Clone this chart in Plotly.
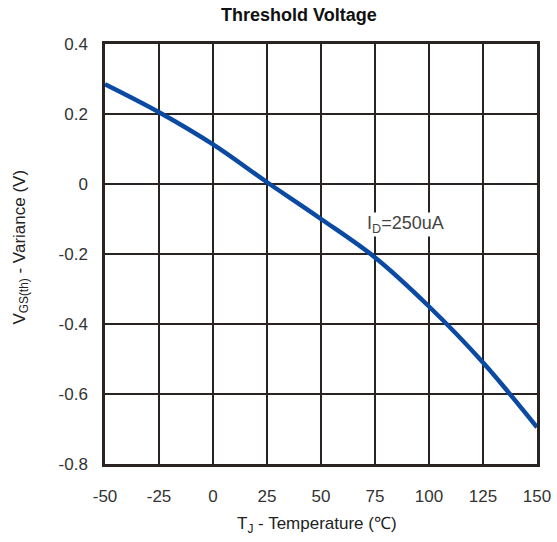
import plotly.graph_objects as go

temperature = [-50, -25, 0, 25, 50, 75, 100, 125, 150]
variance = [0.285, 0.205, 0.113, 0.005, -0.10, -0.21, -0.35, -0.51, -0.695]
x_ticks = [-50, -25, 0, 25, 50, 75, 100, 125, 150]
y_ticks = [0.4, 0.2, 0, -0.2, -0.4, -0.6, -0.8]
y_tick_labels = ["0.4", "0.2", "0", "-0.2", "-0.4", "-0.6", "-0.8"]

grid_color = "#2b2222"
font_family = "Liberation Sans, Arial, sans-serif"

fig = go.Figure()
fig.add_trace(go.Scatter(
    x=temperature, y=variance, mode="lines",
    line=dict(color="#0b4aa2", width=4.5, shape="spline", smoothing=1.0),
    showlegend=False, hoverinfo="skip",
))

fig.add_annotation(
    x=89, y=-0.117, text="I<sub>D</sub>=250uA", showarrow=False,
    font=dict(family=font_family, size=18, color="#444444"),
    bgcolor="white", borderpad=0,
)
# axis titles
fig.add_annotation(
    xref="paper", yref="paper", x=0.49, y=-0.145,
    text="T<sub>J</sub> - Temperature (℃)", showarrow=False,
    xanchor="center", yanchor="middle",
    font=dict(family=font_family, size=17, color="#222222"),
)
fig.add_annotation(
    xref="paper", yref="paper", x=-0.195, y=0.517,
    text="V<sub>GS(th)</sub> - Variance (V)", showarrow=False, textangle=-90,
    xanchor="center", yanchor="middle",
    font=dict(family=font_family, size=17, color="#222222"),
)
fig.add_annotation(
    xref="paper", yref="paper", x=0.45, y=1.069,
    text="<b>Threshold Voltage</b>", showarrow=False,
    xanchor="center", yanchor="middle",
    font=dict(family=font_family, size=18, color="#111111"),
)

fig.update_layout(
    width=557, height=542,
    margin=dict(l=105, r=6, t=44, b=78),
    paper_bgcolor="white", plot_bgcolor="white",
    font=dict(family=font_family, color="#333333"),
    xaxis=dict(
        range=[-50, 150], tickvals=x_ticks, ticktext=[str(v) for v in x_ticks],
        showgrid=True, gridcolor=grid_color, gridwidth=2,
        showline=True, linecolor=grid_color, linewidth=2.5, mirror=True,
        zeroline=False, ticks="", ticklabelstandoff=15,
        ticklabeloverflow="allow",
        tickfont=dict(size=17, color="#333333"),
    ),
    yaxis=dict(
        range=[-0.8, 0.4], tickvals=y_ticks, ticktext=y_tick_labels,
        showgrid=True, gridcolor=grid_color, gridwidth=2,
        showline=True, linecolor=grid_color, linewidth=2.5, mirror=True,
        zeroline=False, ticks="", ticklabelstandoff=11,
        tickfont=dict(size=17, color="#333333"),
    ),
)

fig.write_html(
    "out.html",
    config={"displayModeBar": False},
    post_script="document.body.style.margin='0';document.body.style.overflow='hidden';",
)
